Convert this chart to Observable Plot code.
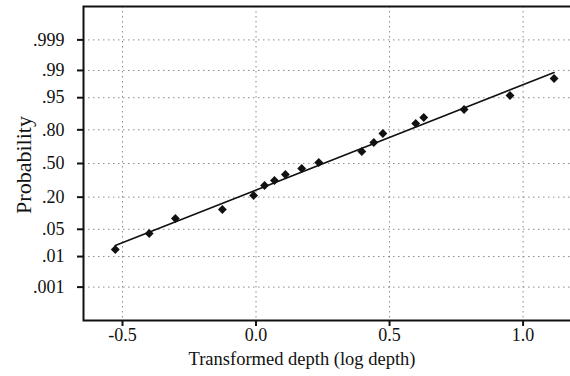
<!DOCTYPE html>
<html><head><meta charset="utf-8">
<script src="https://cdn.jsdelivr.net/npm/d3@7"></script>
<script src="https://cdn.jsdelivr.net/npm/@observablehq/plot@0.6"></script>
<style>body{margin:0;overflow:hidden;background:#fff}#chart{width:570px;overflow:hidden}</style>
</head><body><div id="chart"></div>
<script>
// Observed points: transformed depth (log depth) and normal score of plotting position
const depthX = [-0.527, -0.400, -0.302, -0.126, -0.009, 0.032, 0.069, 0.110, 0.171, 0.235, 0.396, 0.441, 0.475, 0.598, 0.628, 0.779, 0.951, 1.116];
const normalScore = [-2.15, -1.75, -1.375, -1.15, -0.80, -0.55, -0.425, -0.275, -0.125, 0.025, 0.30, 0.525, 0.75, 1.00, 1.15, 1.35, 1.70, 2.125];
// Fitted line endpoints
const fitX = [-0.527, 1.116];
const fitZ = [-2.05, 2.275];
// Probability tick labels
const probTicks = [0.999, 0.99, 0.95, 0.80, 0.50, 0.20, 0.05, 0.01, 0.001];
const probLabels = [".999", ".99", ".95", ".80", ".50", ".20", ".05", ".01", ".001"];
const xTicks = [-0.5, 0, 0.5, 1.0];
const xTickLabels = ["-0.5", "0.0", "0.5", "1.0"];

// inverse standard normal CDF (Acklam)
function qnorm(p) {
  const a = [-3.969683028665376e+01, 2.209460984245205e+02, -2.759285104469687e+02, 1.383577518672690e+02, -3.066479806614716e+01, 2.506628277459239e+00];
  const b = [-5.447609879822406e+01, 1.615858368580409e+02, -1.556989798598866e+02, 6.680131188771972e+01, -1.328068155288572e+01];
  const c = [-7.784894002430293e-03, -3.223964580411365e-01, -2.400758277161838e+00, -2.549732539343734e+00, 4.374664141464968e+00, 2.938163982698783e+00];
  const d = [7.784695709041462e-03, 3.224671290700398e-01, 2.445134137142996e+00, 3.754408661907416e+00];
  const pl = 0.02425, ph = 1 - pl;
  let q, r;
  if (p < pl) { q = Math.sqrt(-2 * Math.log(p)); return (((((c[0]*q+c[1])*q+c[2])*q+c[3])*q+c[4])*q+c[5]) / ((((d[0]*q+d[1])*q+d[2])*q+d[3])*q+1); }
  if (p <= ph) { q = p - 0.5; r = q*q; return (((((a[0]*r+a[1])*r+a[2])*r+a[3])*r+a[4])*r+a[5])*q / (((((b[0]*r+b[1])*r+b[2])*r+b[3])*r+b[4])*r+1); }
  q = Math.sqrt(-2 * Math.log(1 - p)); return -(((((c[0]*q+c[1])*q+c[2])*q+c[3])*q+c[4])*q+c[5]) / ((((d[0]*q+d[1])*q+d[2])*q+d[3])*q+1);
}

const zTicks = probTicks.map(qnorm);
const yLabelMap = new Map(zTicks.map((z, i) => [z, probLabels[i]]));
const xLabelMap = new Map(xTicks.map((x, i) => [x, xTickLabels[i]]));
const points = depthX.map((x, i) => ({x, z: normalScore[i]}));
const fit = fitX.map((x, i) => ({x, z: fitZ[i]}));

const grid = {stroke: "#8a8a8a", strokeOpacity: 1, strokeWidth: 1, strokeDasharray: "1.5,3.5"};

const chart = Plot.plot({
  width: 576, height: 376,
  marginLeft: 83, marginRight: 0, marginTop: 6, marginBottom: 56,
  style: {fontFamily: "'Liberation Serif', 'Times New Roman', serif", fontSize: "18px", color: "#111", background: "#fff"},
  x: {domain: [-0.646, 1.2], axis: null},
  y: {domain: [-3.925, 3.925], axis: null},
  marks: [
    Plot.gridY(zTicks, grid),
    Plot.gridX(xTicks, grid),
    Plot.axisY(zTicks, {tickFormat: d => yLabelMap.get(d), tickSize: 6, tickPadding: 13, strokeWidth: 2, fontSize: 18, label: null}),
    Plot.axisX(xTicks, {tickFormat: d => xLabelMap.get(d), tickSize: 6, tickPadding: 2, strokeWidth: 2, fontSize: 18, label: null}),
    Plot.frame({stroke: "#111", strokeWidth: 2}),
    Plot.line(fit, {x: "x", y: "z", stroke: "#111", strokeWidth: 1.6}),
    Plot.dot(points, {x: "x", y: "z", symbol: "diamond2", r: 4, fill: "#111", stroke: "none"})
  ]
});
chart.style.maxWidth = "none";

const svg = d3.select(chart);
svg.append("text")
  .attr("x", 302).attr("y", 365)
  .attr("text-anchor", "middle")
  .attr("font-size", 18.5)
  .attr("fill", "#111")
  .text("Transformed depth (log depth)");
svg.append("text")
  .attr("transform", "translate(31,165) rotate(-90)")
  .attr("text-anchor", "middle")
  .attr("font-size", 22)
  .attr("fill", "#111")
  .text("Probability");

document.getElementById("chart").appendChild(chart);
</script>
</body></html>
